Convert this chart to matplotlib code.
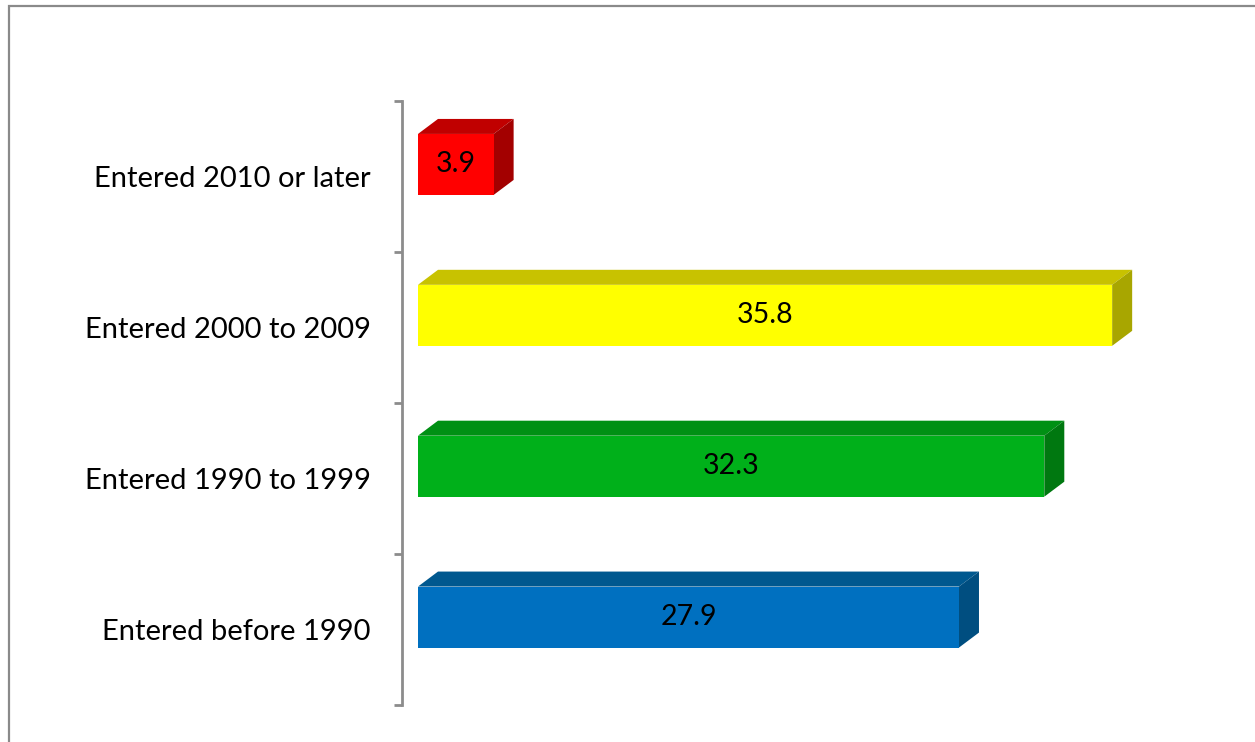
import matplotlib
matplotlib.use('Agg')
import matplotlib.pyplot as plt
from matplotlib.patches import Polygon, Rectangle

# categories listed bottom to top
categories = ['Entered before 1990', 'Entered 1990 to 1999',
              'Entered 2000 to 2009', 'Entered 2010 or later']
values = [27.9, 32.3, 35.8, 3.9]
front_colors = ['#0070C0', '#00B01A', '#FFFF00', '#FF0000']
top_colors = ['#00588F', '#009014', '#C8C200', '#C00000']
side_colors = ['#004E80', '#007810', '#A8A600', '#A30000']

plt.rcParams['font.family'] = ['Lato', 'DejaVu Sans']

W, H = 1255, 742
fig = plt.figure(figsize=(W / 100, H / 100), dpi=100)

# outer chart frame
fig.patches.append(Rectangle((8.5 / W, -0.1), 1.2, 1.1 - 5.5 / H, transform=fig.transFigure,
                             fill=False, ec='#8a8a8a', lw=1.6))

ax_left, ax_right = 401.5, 1180
ax_top, ax_bot = 101.5, 705
ax = fig.add_axes([ax_left / W, 1 - ax_bot / H, (ax_right - ax_left) / W, (ax_bot - ax_top) / H])

px_per_unit = 19.39
x0 = -(418 - ax_left) / px_per_unit
ax.set_xlim(x0, x0 + (ax_right - ax_left) / px_per_unit)
ax.set_ylim(-0.5, 3.5)

band_px = (ax_bot - ax_top) / 4
dx = 20 / px_per_unit
dy = 15 / band_px
h = 61 / band_px
shift = 12.5 / band_px

ys = [i + shift for i in range(len(values))]
ax.barh(ys, values, height=h, color=front_colors, zorder=3)

for y, v, tc, sc in zip(ys, values, top_colors, side_colors):
    yt, yb = y + h / 2, y - h / 2
    ax.add_patch(Polygon([(0, yt), (v, yt), (v + dx, yt + dy), (dx, yt + dy)],
                         closed=True, fc=tc, ec='none', zorder=2))
    ax.add_patch(Polygon([(v, yb), (v, yt), (v + dx, yt + dy), (v + dx, yb + dy)],
                         closed=True, fc=sc, ec='none', zorder=2))
    ax.text(v / 2, y, f'{v:.1f}', ha='center', va='center', fontsize=20.5, color='black', zorder=4)

for s in ['top', 'right', 'bottom']:
    ax.spines[s].set_visible(False)
ax.spines['left'].set_color('#8c8c8c')
ax.spines['left'].set_linewidth(2)
ax.set_xticks([])
ax.set_yticks([-0.5, 0.5, 1.5, 2.5, 3.5])
ax.set_yticklabels([])
ax.tick_params(axis='y', which='major', length=6, width=2, color='#8c8c8c')
ax.set_yticks(range(len(categories)), minor=True)
ax.set_yticklabels(categories, minor=True, fontsize=21)
ax.tick_params(axis='y', which='minor', length=0, pad=22)
ax.patch.set_visible(False)

fig.savefig('out.png', dpi=100)
